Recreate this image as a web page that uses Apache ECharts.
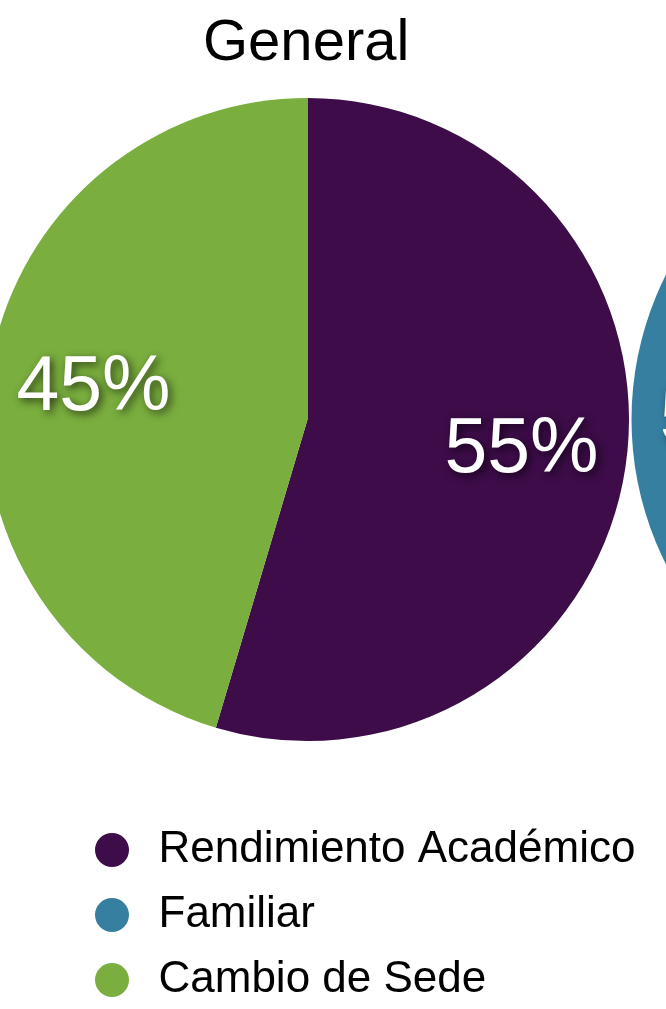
<!DOCTYPE html>
<html>
<head>
<meta charset="utf-8">
<script src="https://cdn.jsdelivr.net/npm/echarts@6/dist/echarts.min.js"></script>
<style>
html,body{margin:0;padding:0;background:#fff;}
#chart{width:666px;height:1009px;}
</style>
</head>
<body>
<div id="chart"></div>
<script>
// Data
const categories = ['Rendimiento Académico', 'Familiar', 'Cambio de Sede'];
const generalNames = ['Rendimiento Académico', 'Cambio de Sede'];
const generalValues = [54.6, 45.4];
const secondNames = ['Rendimiento Académico', 'Familiar'];
const secondValues = [50, 50];
const titleText = 'General';

const colorMap = {
  'Rendimiento Académico': '#3d0c49',
  'Familiar': '#367fa1',
  'Cambio de Sede': '#7aae3e'
};
const FONT = '"Liberation Sans", Arial, Helvetica, sans-serif';

function buildData(names, values, transparent) {
  return names.map((n, i) => ({
    name: n,
    value: values[i],
    itemStyle: { color: transparent ? 'rgba(0,0,0,0)' : colorMap[n], borderWidth: 0 }
  }));
}

const R = 321.5;
const labelStyle = {
  show: true,
  position: 'inside',
  formatter: p => Math.round(p.percent) + '%',
  color: '#ffffff',
  fontFamily: FONT,
  fontSize: 77,
  padding: [10, 0, 0, 0],
  textShadowColor: 'rgba(0,0,0,0.65)',
  textShadowBlur: 8,
  textShadowOffsetX: 3,
  textShadowOffsetY: 3
};

function pieSeries(names, values, cx, overlay) {
  return {
    type: 'pie',
    center: [cx, 419.5],
    radius: overlay ? [105, R] : [0, R],
    startAngle: 90,
    clockwise: true,
    silent: true,
    animation: false,
    avoidLabelOverlap: false,
    emphasis: { disabled: true },
    labelLine: { show: false },
    label: overlay ? labelStyle : { show: false },
    itemStyle: { borderWidth: 0 },
    data: buildData(names, values, overlay)
  };
}

const chart = echarts.init(document.getElementById('chart'), null, { renderer: 'canvas' });
chart.setOption({
  backgroundColor: '#ffffff',
  animation: false,
  title: {
    text: titleText,
    left: 203,
    top: 15,
    padding: 0,
    textStyle: { fontFamily: FONT, fontSize: 58, fontWeight: 'normal', color: '#000000' }
  },
  legend: {
    data: categories,
    orient: 'vertical',
    left: 95,
    top: 828,
    padding: 0,
    icon: 'circle',
    itemWidth: 83,
    itemHeight: 34,
    itemGap: 21,
    selectedMode: false,
    textStyle: { fontFamily: FONT, fontSize: 44, lineHeight: 43, color: '#000000' }
  },
  series: [
    pieSeries(generalNames, generalValues, 307.5, false),
    pieSeries(secondNames, secondValues, 953, false),
    pieSeries(generalNames, generalValues, 307.5, true),
    pieSeries(secondNames, secondValues, 953, true)
  ]
});
</script>
</body>
</html>
